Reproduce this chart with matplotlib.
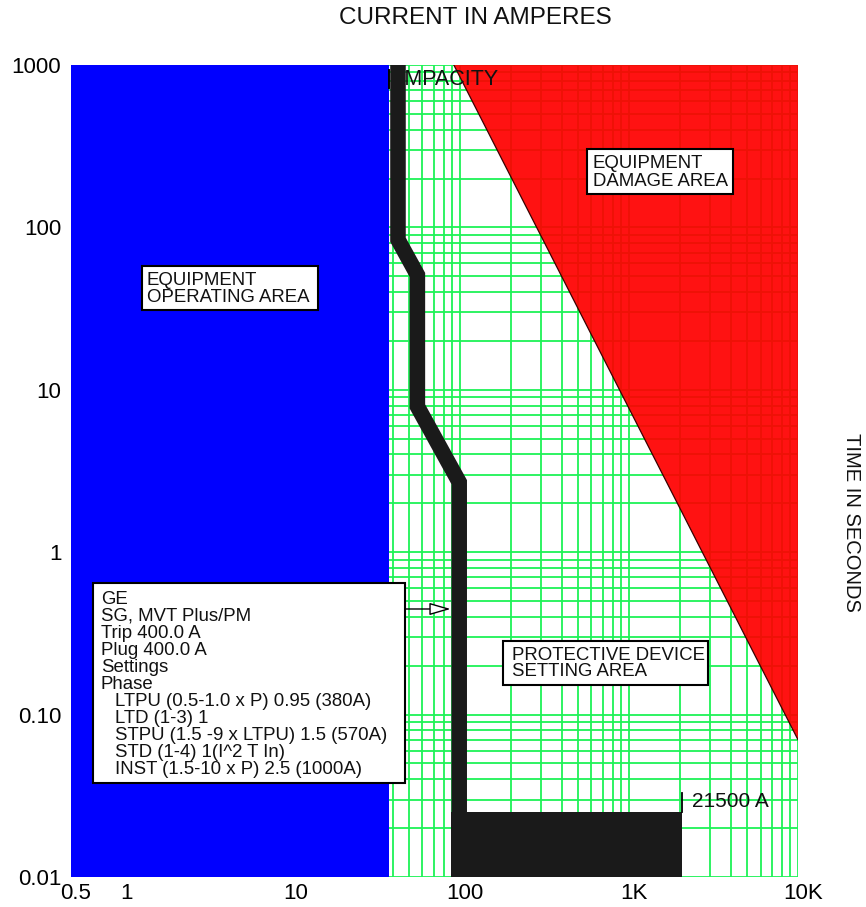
import matplotlib
matplotlib.use("Agg")
import matplotlib.pyplot as plt
from matplotlib.patches import Rectangle
from matplotlib.transforms import ScaledTranslation
from matplotlib.ticker import LogLocator, FixedLocator, FixedFormatter, NullFormatter

plt.rcParams["font.family"] = ["Liberation Sans", "DejaVu Sans"]

# ---- axis ranges and tick labels ----
x_range = [0.5, 10000]
y_range = [0.01, 1000]
x_ticks = [0.5, 1, 10, 100, 1000, 10000]
x_tick_labels = ["0.5", "1", "10", "100", "1K", "10K"]
y_ticks = [0.01, 0.1, 1, 10, 100, 1000]
y_tick_labels = ["0.01", "0.10", "1", "10", "100", "1000"]

# ---- regions ----
ampacity_current = 38                 # A, right edge of the operating area
damage_current = [92, 10000]          # A, equipment damage boundary
damage_time = [1000, 0.07]            # s

# ---- breaker trip band (GE MVT Plus/PM) ----
trip_current = [43, 43, 56, 56, 99, 99]
trip_time = [1000, 84, 51, 7.9, 2.7, 0.025]
inst_current = [88, 2050]             # instantaneous clearing block
inst_time = [0.01, 0.025]
fault_tick_time = [0.025, 0.033]
fault_label = "21500 A"
ampacity_tick_time = [720, 930]
arrow_target = (88, 0.447)

settings_lines = [
    ("GE", 0),
    ("SG, MVT Plus/PM", 0),
    ("Trip 400.0 A", 0),
    ("Plug 400.0 A", 0),
    ("Settings", 0),
    ("Phase", 0),
    ("LTPU (0.5-1.0 x P) 0.95 (380A)", 1),
    ("LTD (1-3) 1", 1),
    ("STPU (1.5 -9 x LTPU) 1.5 (570A)", 1),
    ("STD (1-4) 1(I^2 T In)", 1),
    ("INST (1.5-10 x P) 2.5 (1000A)", 1),
]

W, H = 866, 907
fig = plt.figure(figsize=(W / 100, H / 100), dpi=100)


def fx(px):
    return px / W


def fy(py):
    return 1 - py / H


ax = fig.add_axes([fx(71), fy(877), (798 - 71) / W, (877 - 65) / H])
ax.set_xscale("log")
ax.set_yscale("log")
ax.set_xlim(x_range)
ax.set_ylim(y_range)

green = "#1ef256"
ax.xaxis.set_major_locator(FixedLocator(x_ticks))
ax.xaxis.set_major_formatter(FixedFormatter(x_tick_labels))
ax.yaxis.set_major_locator(FixedLocator(y_ticks))
ax.yaxis.set_major_formatter(FixedFormatter(y_tick_labels))
ax.xaxis.set_minor_locator(LogLocator(base=10, subs=range(1, 10), numticks=20))
ax.yaxis.set_minor_locator(LogLocator(base=10, subs=range(1, 10), numticks=20))
ax.xaxis.set_minor_formatter(NullFormatter())
ax.yaxis.set_minor_formatter(NullFormatter())
ax.grid(True, which="both", color=green, lw=1.3)
ax.set_axisbelow(True)
ax.tick_params(which="both", length=0)
ax.tick_params(axis="x", labelsize=16, pad=4)
ax.tick_params(axis="y", labelsize=16, pad=7)
for s in ax.spines.values():
    s.set_visible(False)
shift = ScaledTranslation(5 / 100, 0, fig.dpi_scale_trans)
for lab in ax.get_xticklabels():
    lab.set_transform(lab.get_transform() + shift)

# operating area
ax.axvspan(x_range[0], ampacity_current, color="#0000ff", lw=0, zorder=1)

# damage area
ax.fill([damage_current[0], damage_current[1], damage_current[1]],
        [damage_time[0], damage_time[1], damage_time[0]],
        color="#ff0000", alpha=0.93, lw=0, zorder=1)
ax.plot(damage_current, damage_time, color="#3a0000", lw=0.9, zorder=2)

# ampacity marker
ax.plot([ampacity_current, ampacity_current], ampacity_tick_time,
        color="black", lw=1.4, zorder=3)
ax.text(ampacity_current * 1.03, 840, "AMPACITY", fontsize=15.5,
        va="center_baseline", ha="left", color="#111111", zorder=3)

# trip band
band_color = "#1a1a1a"
ax.plot(trip_current, trip_time, color=band_color, lw=11.2,
        solid_joinstyle="miter", solid_capstyle="butt", zorder=4)
ax.fill_between(inst_current, inst_time[0], inst_time[1],
                color=band_color, lw=0, zorder=4)

# fault current marker
ax.plot([inst_current[1], inst_current[1]], fault_tick_time,
        color="black", lw=1.3, zorder=4)
ax.text(inst_current[1] * 1.15, 0.0302, fault_label, fontsize=15,
        va="center_baseline", ha="left", color="#111111", zorder=4)

# arrow from settings box to the band
ax.annotate("", xy=arrow_target, xycoords="data",
            xytext=(405, H - 609), textcoords="figure pixels",
            arrowprops=dict(arrowstyle="-|>,head_length=1.3,head_width=0.38",
                            fc="white", ec="black", lw=1.0,
                            shrinkA=0, shrinkB=0),
            zorder=6)


def text_box(x0, y0, x1, y1, lines, text_x, line_y, size=13.4, indent=None):
    fig.add_artist(Rectangle((fx(x0), fy(y1)), (x1 - x0) / W, (y1 - y0) / H,
                             transform=fig.transFigure, facecolor="white",
                             edgecolor="black", lw=1.5, zorder=5))
    for i, ln in enumerate(lines):
        if isinstance(ln, tuple):
            txt, ind = ln
        else:
            txt, ind = ln, 0
        xx = indent if (ind and indent) else text_x
        fig.text(fx(xx), fy(line_y[i]), txt, fontsize=size, ha="left",
                 va="center_baseline", color="#111111", zorder=6)


text_box(141.7, 265.7, 318.3, 310, ["EQUIPMENT", "OPERATING AREA"],
         146.7, [278.3, 295.7])
text_box(586.7, 149.3, 733.3, 194.3, ["EQUIPMENT", "DAMAGE AREA"],
         592.7, [161.7, 179.3])
text_box(503.3, 641, 708.3, 685, ["PROTECTIVE DEVICE", "SETTING AREA"],
         511.7, [653.3, 670])
text_box(92.7, 583.3, 405, 783.3, settings_lines, 100.7,
         [597.3 + 17 * i for i in range(len(settings_lines))], indent=115)

fig.text(fx(475), fy(18), "CURRENT IN AMPERES", fontsize=17.5,
         ha="center", va="center", color="#111111")
fig.text(fx(851), fy(522), "TIME IN SECONDS", fontsize=14.5, rotation=270,
         ha="center", va="center", color="#111111")

fig.savefig("out.png", dpi=100)
